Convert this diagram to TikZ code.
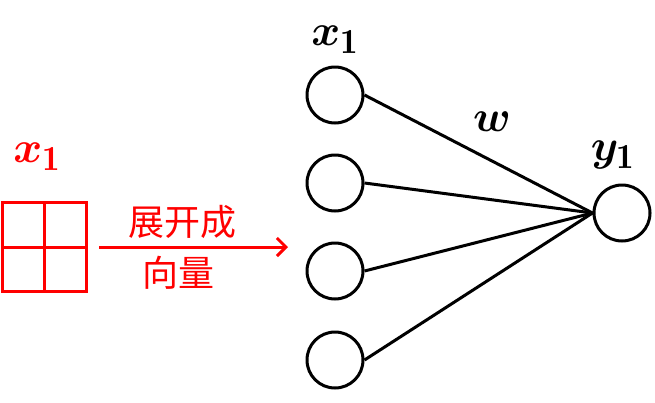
\RequirePackage{fix-cm}
\documentclass[tikz,border=0pt]{standalone}
\usepackage{amsmath}
\usepackage{bm}
\usepackage{fontspec}
\newfontfamily\cjk{Noto Sans CJK SC}
\usetikzlibrary{arrows.meta,positioning}
\renewcommand\defaultscriptratio{.8}

\tikzset{
    neuron/.style = {draw, circle, line width=3pt, minimum size=56pt, inner sep=0pt},
    wire/.style = {line width=3pt},
    lbl/.style = {font=\fontsize{44}{50}\selectfont},
    cn/.style = {text=red, font=\cjk\fontsize{36}{42}\selectfont}
}

\begin{document}
\begin{tikzpicture}[x=1pt,y=-1pt]
        \useasboundingbox (0,0) rectangle (655,402);

        % input vector
        \node[neuron] (x1) at (335,95) {};
        \node[neuron] (x2) at (335,183) {};
        \node[neuron] (x3) at (335,271) {};
        \node[neuron] (x4) at (335,360) {};

        % output
        \node[neuron] (y1) at (622,213) {};

        \foreach \i in {1,...,4}
            \draw[wire] (x\i.east) -- (y1.west);

        \node[lbl] (xlab) at (335,40) {$\bm{x}_{\mathbf{1}}$};
        \node[lbl] (wlab) at (492,122) {$\bm{w}$};
        \node[lbl] (ylab) at (613,155) {$\bm{y}_{\mathbf{1}}$};

        % the 2x2 picture
        \node[draw=red, line width=3pt, minimum width=84pt, minimum height=89pt, inner sep=0pt] (grid) at (44.5,247) {};
        \draw[red, line width=3pt] (grid.north) -- (grid.south);
        \draw[red, line width=3pt] (grid.west) -- (grid.east);
        \node[lbl, text=red] (rlab) at (37,157) {$\bm{x}_{\mathbf{1}}$};

        % flatten arrow
        \coordinate (tip) at (288,247);
        \draw[red, line width=3pt, shorten <=11pt, -{Straight Barb[length=9pt,width=18pt]}] (grid.east) -- (tip);
        \node[cn] (top) at (182,222) {展开成};
        \node[cn] (bot) at (178,273) {向量};
    \end{tikzpicture}
\end{document}
